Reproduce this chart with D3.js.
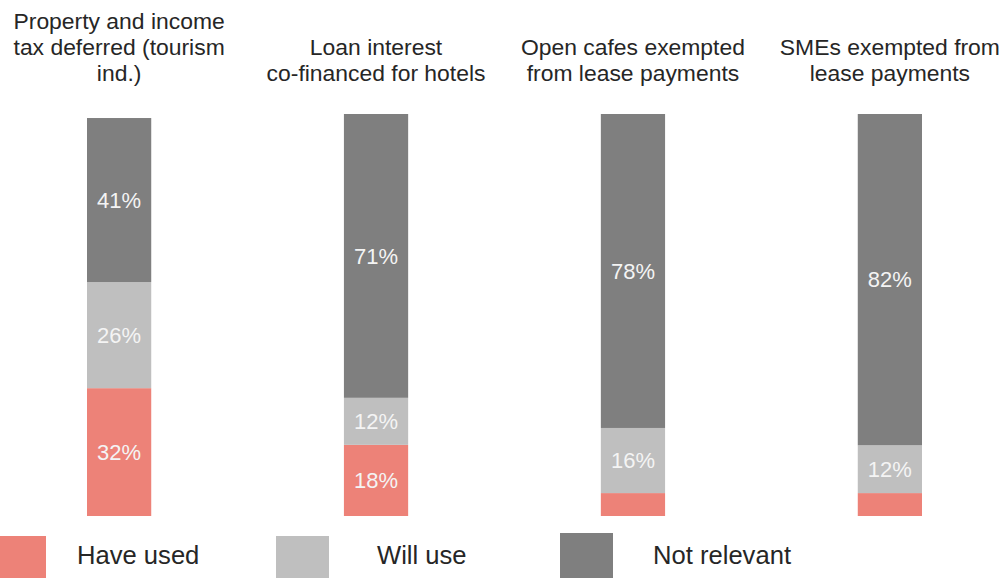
<!DOCTYPE html>
<html>
<head>
<meta charset="utf-8">
<script src="https://cdn.jsdelivr.net/npm/d3@7"></script>
<style>
  html, body { margin: 0; padding: 0; background: #fff; overflow: hidden; }
  svg { display: block; font-family: "Liberation Sans", Arial, sans-serif; }
</style>
</head>
<body>
<svg id="chart" width="1007" height="578"></svg>
<script>
// ---- Data ----
const categories = ["Property tax", "Loan interest", "Open cafes", "SMEs"];
const titleLines = [
  ["Property and income", "tax deferred (tourism", "ind.)"],
  ["Loan interest", "co-financed for hotels"],
  ["Open cafes exempted", "from lease payments"],
  ["SMEs exempted from", "lease payments"]
];
const seriesNames = ["Have used", "Will use", "Not relevant"];
const haveUsed    = [31.8, 17.7, 5.7, 5.7];
const willUse     = [26.4, 11.7, 16.2, 11.9];
const notRelevant = [40.8, 70.6, 78.1, 82.4];
const minLabel = 8; // segments smaller than this (%) are not labelled

// ---- Setup ----
const colors = ["#ED8278", "#BFBFBF", "#7F7F7F"];
const svg = d3.select("#chart");

const rows = categories.map((c, i) => ({
  cat: c, "Have used": haveUsed[i], "Will use": willUse[i], "Not relevant": notRelevant[i]
}));
const stacked = d3.stack().keys(seriesNames)(rows);

const x = d3.scaleBand().domain(categories).range([87, 922]).paddingInner(0.75).paddingOuter(0);
const y = d3.scaleLinear().domain([0, 100]).range([516, 114]);
const color = d3.scaleOrdinal().domain(seriesNames).range(colors);

// bars
const layers = svg.append("g").selectAll("g").data(stacked).join("g")
  .attr("fill", d => color(d.key));
layers.selectAll("rect").data(d => d).join("rect")
  .attr("x", d => x(d.data.cat))
  .attr("width", x.bandwidth())
  .attr("y", d => y(d[1]))
  .attr("height", d => y(d[0]) - y(d[1]));

// value labels
layers.selectAll("text").data(d => d.filter(s => s[1] - s[0] >= minLabel)).join("text")
  .attr("x", d => x(d.data.cat) + x.bandwidth() / 2)
  .attr("y", d => (y(d[0]) + y(d[1])) / 2)
  .attr("dy", "0.35em")
  .attr("text-anchor", "middle")
  .attr("font-size", 22)
  .attr("fill", "#F4F4F4")
  .text(d => Math.round(d[1] - d[0]) + "%");

// titles (bottom-aligned)
const lineH = 26, lastBaseline = 81;
const titles = svg.append("g").selectAll("text").data(categories).join("text")
  .attr("text-anchor", "middle")
  .attr("font-size", 22.9)
  .attr("fill", "#262626");
titles.each(function(c, i) {
  const lines = titleLines[i];
  const t = d3.select(this);
  lines.forEach((ln, j) => {
    t.append("tspan")
      .attr("x", x(c) + x.bandwidth() / 2)
      .attr("y", lastBaseline - (lines.length - 1 - j) * lineH)
      .text(ln);
  });
});

// legend
const legendSquareX = [-7, 276, 560];
const legendSquareY = [536, 536, 533];
const legendTextX = [77, 377, 653];
const lg = svg.append("g").selectAll("g").data(seriesNames).join("g");
lg.append("rect")
  .attr("x", (d, i) => legendSquareX[i])
  .attr("y", (d, i) => legendSquareY[i])
  .attr("width", 53)
  .attr("height", 50)
  .attr("fill", d => color(d));
lg.append("text")
  .attr("x", (d, i) => legendTextX[i])
  .attr("y", 564)
  .attr("font-size", 25.6)
  .attr("fill", "#262626")
  .text(d => d);
</script>
</body>
</html>
